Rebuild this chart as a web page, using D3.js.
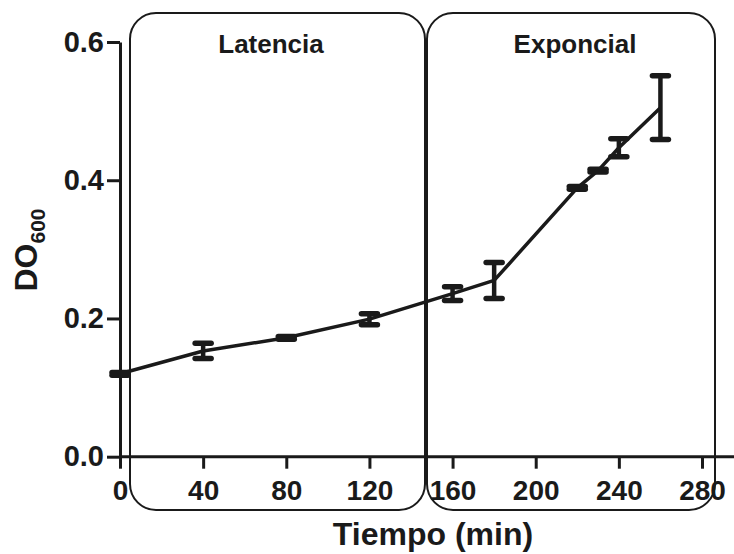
<!DOCTYPE html>
<html>
<head>
<meta charset="utf-8">
<script src="https://cdn.jsdelivr.net/npm/d3@7"></script>
<style>
  html, body { margin: 0; padding: 0; background: #ffffff; }
  svg { display: block; }
  text { font-family: "Liberation Sans", Arial, sans-serif; font-weight: bold; fill: #1a1a1a; }
</style>
</head>
<body>
<svg id="chart" width="734" height="554"></svg>
<script>
// ---- data ----
const times  = [0, 40, 80, 120, 160, 180, 220, 230, 240, 260];
const od600  = [0.120, 0.153, 0.172, 0.199, 0.236, 0.255, 0.389, 0.414, 0.447, 0.505];
const errors = [0.002, 0.011, 0.002, 0.008, 0.010, 0.026, 0.002, 0.002, 0.013, 0.046];
const xTicks = [0, 40, 80, 120, 160, 200, 240, 280];
const yTicks = [0.0, 0.2, 0.4, 0.6];
const phaseLabels = ["Latencia", "Exponcial"];

const svg = d3.select("#chart");
const ink = "#1a1a1a";

const x = d3.scaleLinear().domain([0, 280]).range([120, 702]);
const y = d3.scaleLinear().domain([0, 0.6]).range([456.7, 42]);

// ---- phase boxes (annotation layout) ----
const boxes = [
  {x0: 130, x1: 425, label: phaseLabels[0], cx: 271},
  {x0: 427, x1: 715, label: phaseLabels[1], cx: 575}
];
svg.selectAll("rect.phase").data(boxes).enter().append("rect")
  .attr("class", "phase")
  .attr("x", d => d.x0).attr("y", 13)
  .attr("width", d => d.x1 - d.x0).attr("height", 497)
  .attr("rx", 26).attr("ry", 26)
  .attr("fill", "none").attr("stroke", ink).attr("stroke-width", 2);
svg.selectAll("text.phase").data(boxes).enter().append("text")
  .attr("class", "phase")
  .attr("x", d => d.cx).attr("y", 53)
  .attr("text-anchor", "middle")
  .attr("font-size", 26)
  .text(d => d.label);

// ---- axes ----
const xAxis = d3.axisBottom(x).tickValues(xTicks).tickSize(12).tickSizeOuter(0).tickPadding(11)
  .tickFormat(d3.format("d"));
const gx = svg.append("g").attr("transform", `translate(0,${y(0)})`).call(xAxis);
gx.select(".domain").remove();
gx.append("line").attr("x1", x(0)).attr("x2", 734).attr("y1", 0).attr("y2", 0)
  .attr("stroke", ink).attr("stroke-width", 3);
gx.selectAll(".tick line").attr("stroke", ink).attr("stroke-width", 3);
gx.selectAll(".tick text").attr("font-size", 28).attr("fill", ink)
  .style("font-family", '"Liberation Sans", Arial, sans-serif').style("font-weight", "bold");

const yAxis = d3.axisLeft(y).tickValues(yTicks).tickSize(13).tickSizeOuter(0).tickPadding(3)
  .tickFormat(d3.format(".1f"));
const gy = svg.append("g").attr("transform", `translate(${x(0)},0)`).call(yAxis);
gy.select(".domain").attr("stroke", ink).attr("stroke-width", 3);
gy.selectAll(".tick line").attr("stroke", ink).attr("stroke-width", 3);
gy.selectAll(".tick text").attr("font-size", 29).attr("fill", ink)
  .style("font-family", '"Liberation Sans", Arial, sans-serif').style("font-weight", "bold");

// ---- axis titles ----
svg.append("text")
  .attr("x", 433).attr("y", 545)
  .attr("text-anchor", "middle")
  .attr("font-size", 32)
  .text("Tiempo (min)");

const yt = svg.append("text")
  .attr("transform", "translate(37,250) rotate(-90)")
  .attr("text-anchor", "middle")
  .attr("font-size", 32);
yt.append("tspan").text("DO");
yt.append("tspan").attr("font-size", 21).attr("dy", 8).text("600");

// ---- data ----
const pts = times.map((t, i) => ({t, v: od600[i], e: errors[i]}));

svg.append("path").datum(pts)
  .attr("fill", "none").attr("stroke", ink).attr("stroke-width", 3.5)
  .attr("stroke-linejoin", "round")
  .attr("d", d3.line().x(d => x(d.t)).y(d => y(d.v)));

const eb = svg.selectAll("g.err").data(pts).enter().append("g").attr("class", "err");
eb.append("line")
  .attr("x1", d => x(d.t)).attr("x2", d => x(d.t))
  .attr("y1", d => y(d.v + d.e)).attr("y2", d => y(d.v - d.e))
  .attr("stroke", ink).attr("stroke-width", 4.5);
[1, -1].forEach(s => {
  eb.append("line")
    .attr("x1", d => x(d.t) - 8).attr("x2", d => x(d.t) + 8)
    .attr("y1", d => y(d.v + s * d.e)).attr("y2", d => y(d.v + s * d.e))
    .attr("stroke", ink).attr("stroke-width", 5.5).attr("stroke-linecap", "round");
});
</script>
</body>
</html>
